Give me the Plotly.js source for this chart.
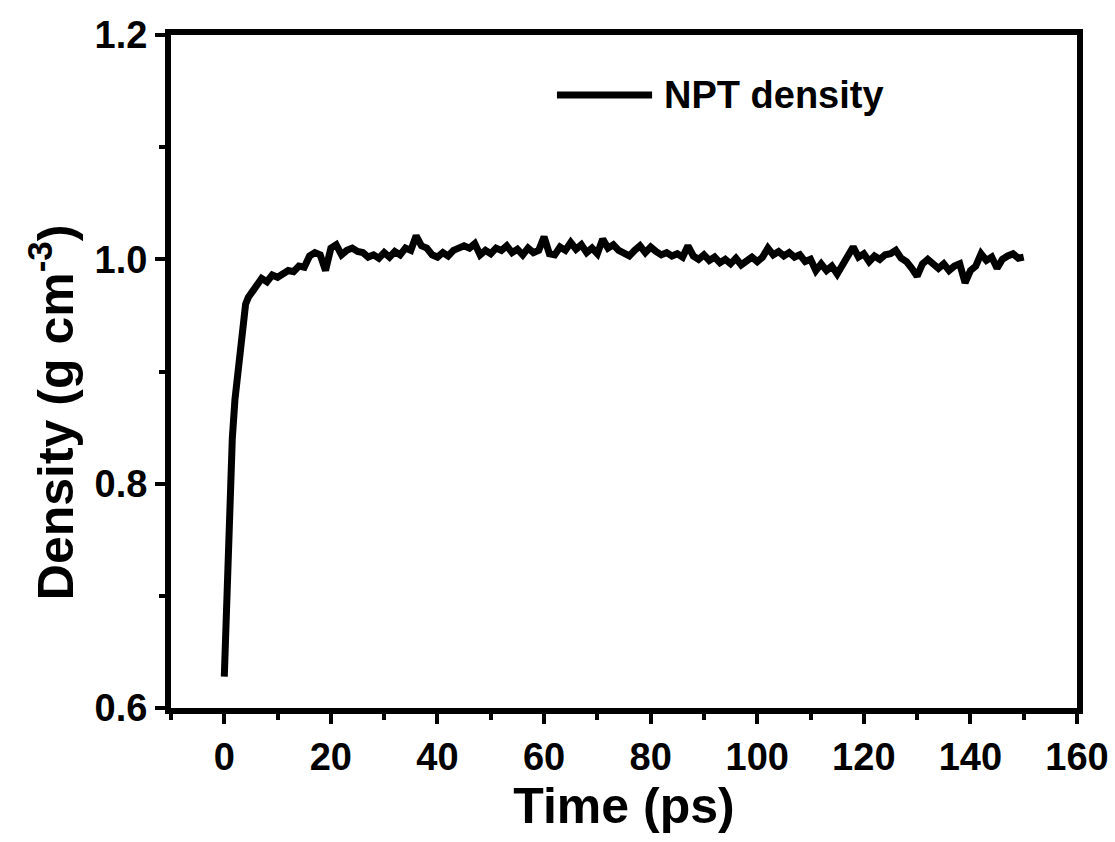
<!DOCTYPE html>
<html>
<head>
<meta charset="utf-8">
<script src="https://cdn.plot.ly/plotly-3.0.1.min.js"></script>
<style>html,body{margin:0;padding:0;background:#fff;}#chart{width:1115px;height:842px;}</style>
</head>
<body>
<div id="chart"></div>
<script>
// Time (ps)
const timePs = [0,0.5,1,1.5,2,2.5,3,3.5,4,4.5,5,
6,7,8,9,10,11,12,13,14,15,16,17,18,19,20,21,22,23,24,25,26,27,28,29,30,
31,32,33,34,35,36,37,38,39,40,41,42,43,44,45,46,47,48,49,50,
51,52,53,54,55,56,57,58,59,60,61,62,63,64,65,66,67,68,69,70,
71,72,73,74,75,76,77,78,79,80,81,82,83,84,85,86,87,88,89,90,
91,92,93,94,95,96,97,98,99,100,101,102,103,104,105,106,107,108,109,110,
111,112,113,114,115,116,117,118,119,120,121,122,123,124,125,126,127,128,129,130,
131,132,133,134,135,136,137,138,139,140,141,142,143,144,145,146,147,148,149,150];
// NPT density (g cm^-3)
const density = [0.628,0.715,0.790,0.840,0.875,0.900,0.925,0.945,0.960,0.966,0.970,
0.975,0.983,0.980,0.986,0.984,0.988,0.990,0.989,0.994,0.993,1.003,1.006,1.004,0.990,1.010,1.013,1.004,1.008,1.010,1.007,1.006,1.002,1.004,1.001,1.006,
1.002,1.007,1.004,1.010,1.008,1.021,1.012,1.010,1.004,1.002,1.006,1.003,1.008,1.010,1.012,1.010,1.014,1.004,1.008,1.005,
1.010,1.008,1.012,1.006,1.009,1.004,1.010,1.006,1.008,1.020,1.005,1.004,1.011,1.008,1.015,1.009,1.013,1.006,1.010,1.005,
1.018,1.010,1.013,1.008,1.006,1.003,1.008,1.012,1.006,1.011,1.007,1.004,1.006,1.003,1.005,1.002,1.012,1.003,1.000,1.004,
0.999,1.002,0.997,1.000,0.996,1.001,0.995,0.999,1.002,0.998,1.002,1.010,1.004,1.007,1.003,1.006,1.002,1.004,0.998,1.000,
0.990,0.996,0.990,0.994,0.987,0.995,1.004,1.011,1.002,1.005,0.998,1.003,1.000,1.004,1.005,1.008,1.001,0.998,0.992,0.985,
0.996,1.000,0.996,0.992,0.996,0.990,0.994,0.996,0.979,0.990,0.994,1.005,0.999,1.002,0.992,1.000,1.003,1.005,1.001,1.002];

const seriesName = 'NPT density';
const xTitle = 'Time (ps)';
const yTitle = 'Density (g cm<sup>-3</sup>)';

const FONT = 'Liberation Sans, Arial, sans-serif';

const trace = {
  x: timePs, y: density, type: 'scatter', mode: 'lines', name: seriesName,
  line: {color: '#000', width: 7, shape: 'linear'},
  showlegend: false
};

const axisCommon = {
  showgrid: false, zeroline: false, showline: true, linecolor: '#000', linewidth: 6,
  mirror: true, ticks: 'outside', tickcolor: '#000', tickwidth: 4, ticklen: 10,
  tickfont: {family: FONT, size: 38, color: '#000', weight: 'bold'}
};

const layout = {
  width: 1115, height: 842,
  margin: {l: 171, r: 38, t: 35, b: 134},
  paper_bgcolor: '#fff', plot_bgcolor: '#fff',
  xaxis: Object.assign({}, axisCommon, {
    range: [-10, 160], tickmode: 'linear', tick0: 0, dtick: 20,
    minor: {dtick: 10, tick0: 0, ticks: 'outside', ticklen: 6, tickwidth: 4, tickcolor: '#000'},
    title: {text: xTitle, font: {family: FONT, size: 50, color: '#000', weight: 'bold'}, standoff: 12}
  }),
  yaxis: Object.assign({}, axisCommon, {
    range: [0.6, 1.2], tickmode: 'linear', tick0: 0.6, dtick: 0.2, tickformat: '.1f',
    minor: {dtick: 0.1, tick0: 0.6, ticks: 'outside', ticklen: 6, tickwidth: 4, tickcolor: '#000'}
  }),
  shapes: [
    {type: 'line', xref: 'paper', yref: 'paper', x0: 0.426, x1: 0.531, y0: 0.911, y1: 0.911,
     line: {color: '#000', width: 7}}
  ],
  annotations: [
    {xref: 'paper', yref: 'paper', x: 0.542, y: 0.911, xanchor: 'left', yanchor: 'middle',
     text: seriesName, showarrow: false,
     font: {family: FONT, size: 38, color: '#000', weight: 'bold'}},
    {xref: 'paper', yref: 'paper', x: -0.131, y: 0.44, xanchor: 'center', yanchor: 'middle',
     textangle: -90, text: yTitle, showarrow: false,
     font: {family: FONT, size: 50, color: '#000', weight: 'bold'}}
  ]
};

Plotly.newPlot('chart', [trace], layout, {displayModeBar: false, staticPlot: true});
</script>
</body>
</html>
